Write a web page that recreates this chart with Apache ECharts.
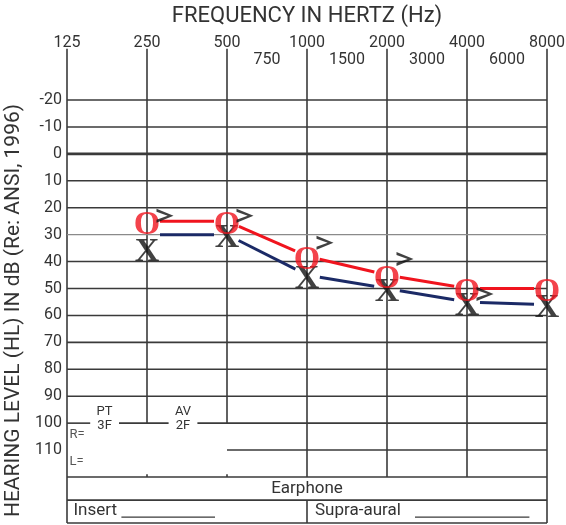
<!DOCTYPE html>
<html>
<head>
<meta charset="utf-8">
<script src="https://cdn.jsdelivr.net/npm/echarts@6/dist/echarts.min.js"></script>
<style>
html,body{margin:0;padding:0;background:#fff;}
#chart{width:566px;height:525px;}
</style>
</head>
<body>
<div id="chart"></div>
<script>
// frequency axis: octave index 0..6 = 125..8000 Hz
var freqLabels = ['125','250','500','1000','2000','4000','8000'];
var halfLabels = ['750','1500','3000','6000'];
var halfPos = [2.5, 3.5, 4.5, 5.5];

// thresholds in dB HL
var airFreq = [250, 500, 1000, 2000, 4000, 8000];
var rightAir = [25, 25, 38, 45, 50, 50];   // O  (red)
var leftAir = [30, 30, 45, 50, 55, 56];    // X  (blue line)
var boneFreq = [250, 500, 1000, 2000, 4000];
var leftBone = [23, 23, 33, 39, 52];       // >

var RED = '#f0141e', NAVY = '#1b2a66', INK = '#3a3a3a', TXT = '#333';
var SANS = 'Roboto';

function oct(f){ return Math.log(f / 125) / Math.LN2; }

function points(freqs, vals){
    return freqs.map(function(f, i){ return [oct(f), vals[i]]; });
}
function segments(freqs, vals){
    var out = [];
    for(var i = 0; i < freqs.length - 1; i++){
        out.push([oct(freqs[i]), vals[i], oct(freqs[i+1]), vals[i+1]]);
    }
    return out;
}

// line between symbols, cut short at both ends
function segItem(color, gap){
    return function(params, api){
        var a = api.coord([api.value(0), api.value(1)]);
        var b = api.coord([api.value(2), api.value(3)]);
        var dx = b[0] - a[0], dy = b[1] - a[1];
        var len = Math.sqrt(dx*dx + dy*dy);
        var ux = dx / len, uy = dy / len;
        return {
            type: 'line',
            shape: {x1: a[0] + ux*gap, y1: a[1] + uy*gap, x2: b[0] - ux*gap, y2: b[1] - uy*gap},
            style: {stroke: color, lineWidth: 3}
        };
    };
}

// the audiogram form: grid lines, bottom table and small texts
var TOP = -39, ROW0 = 120, ROW1 = 128.6, ROW2 = 137.1;
function formItem(params, api){
    var kids = [];
    function seg(x0, y0, x1, y1, w, c){
        var a = api.coord([x0, y0]), b = api.coord([x1, y1]);
        kids.push({type: 'line', shape: {x1: a[0], y1: a[1], x2: b[0], y2: b[1]},
            style: {stroke: c || INK, lineWidth: w || 1.6}});
    }
    function txt(s, x, y, align, size, color){
        var p = api.coord([x, y]);
        kids.push({type: 'text', style: {text: s, x: p[0], y: p[1], align: align || 'center',
            verticalAlign: 'middle', fill: color || TXT, fontSize: size || 16, fontFamily: SANS}});
    }
    // verticals
    for(var i = 0; i <= 6; i++){
        if(i === 0 || i === 6) seg(i, TOP, i, ROW2);
        else if(i <= 2){ seg(i, TOP, i, 100); seg(i, ROW0 - 1, i, ROW0); }
        else seg(i, TOP, i, ROW0);
    }
    // horizontals
    for(var d = -20; d <= 90; d += 10){
        if(d === 0) seg(0, d, 6, d, 2.8);
        else if(d === 30) seg(0, d, 6, d, 1.3, '#8a8a8a');
        else seg(0, d, 6, d);
    }
    seg(0, 100, 0.29, 100); seg(0.65, 100, 1.27, 100); seg(1.63, 100, 6, 100);
    seg(2, 110, 6, 110);
    seg(0, ROW0, 6, ROW0);
    seg(0, ROW1, 6, ROW1);
    seg(0, ROW2, 6, ROW2);
    seg(3, ROW1, 3, ROW2);
    // underlines
    seg(0.68, 134.9, 1.85, 134.9, 1.3);
    seg(4.35, 134.9, 5.78, 134.9, 1.3);
    // texts
    txt('PT', 0.47, 95.8, 'center', 13);
    txt('3F', 0.47, 100.8, 'center', 13);
    txt('AV', 1.45, 95.8, 'center', 13);
    txt('2F', 1.45, 100.8, 'center', 13);
    txt('R=', 0.03, 104.3, 'left', 13, '#555');
    txt('L=', 0.03, 114.4, 'left', 13, '#555');
    txt('Earphone', 3, 124.2, 'center', 17);
    txt('Insert', 0.08, 132.7, 'left', 17);
    txt('Supra-aural', 3.1, 132.7, 'left', 17);
    return {type: 'group', children: kids};
}

function glyphLabel(ch, color){
    return {show: true, position: 'inside', formatter: ch, color: color, offset: [0, 4],
        fontFamily: 'Liberation Serif', fontWeight: 'bold', fontSize: 34};
}

var xData = leftAir.map(function(v, i){
    var item = {value: [oct(airFreq[i]), v]};
    if(i === 0) item.label = {offset: [0, 18]};
    return item;
});

var chart = echarts.init(document.getElementById('chart'));
chart.setOption({
    animation: false,
    backgroundColor: '#fff',
    grid: {left: 67, right: 19, top: 100, bottom: 48, outerBoundsMode: 'none', containLabel: false},
    xAxis: [{
        type: 'value', position: 'top', min: 0, max: 6, interval: 1,
        name: 'FREQUENCY IN HERTZ (Hz)', nameLocation: 'middle', nameGap: 73,
        nameTextStyle: {fontSize: 22, color: TXT, fontFamily: SANS},
        axisLine: {show: false}, axisTick: {show: false}, splitLine: {show: false},
        axisLabel: {margin: 49, fontSize: 16, color: TXT, fontFamily: SANS,
            formatter: function(v){ return freqLabels[Math.round(v)]; }}
    }, {
        type: 'value', position: 'top', min: 0, max: 6, interval: 0.5,
        axisLine: {show: false}, axisTick: {show: false}, splitLine: {show: false},
        axisLabel: {margin: 32, fontSize: 16, color: TXT, fontFamily: SANS,
            formatter: function(v){ var k = halfPos.indexOf(v); return k < 0 ? '' : halfLabels[k]; }}
    }],
    yAxis: {
        type: 'value', inverse: true, min: -20, max: 120, interval: 10,
        name: 'HEARING LEVEL (HL) IN dB (Re: ANSI, 1996)', nameLocation: 'middle', nameGap: 38,
        nameTextStyle: {fontSize: 21, color: TXT, fontFamily: SANS, padding: [0, 44, 0, 0]},
        axisLine: {show: false}, axisTick: {show: false}, splitLine: {show: false},
        axisLabel: {margin: 5, fontSize: 16, color: TXT, fontFamily: SANS,
            formatter: function(v){ return v >= 120 ? '' : v; }}
    },
    series: [{
        type: 'custom', name: 'form', clip: false, z: 1, silent: true,
        renderItem: formItem, data: [[0, 0]]
    }, {
        type: 'custom', name: 'left air line', z: 2,
        renderItem: segItem(NAVY, 13), encode: {x: [0, 2], y: [1, 3]},
        data: segments(airFreq, leftAir)
    }, {
        type: 'custom', name: 'right air line', z: 3,
        renderItem: segItem(RED, 13), encode: {x: [0, 2], y: [1, 3]},
        data: segments(airFreq, rightAir)
    }, {
        type: 'scatter', name: 'left air', z: 4, symbolSize: 1,
        itemStyle: {color: 'rgba(0,0,0,0)'}, label: glyphLabel('X', '#111'),
        data: xData
    }, {
        type: 'scatter', name: 'right air', z: 5, symbolSize: 1,
        itemStyle: {color: 'rgba(0,0,0,0)'}, label: glyphLabel('O', RED),
        data: points(airFreq, rightAir)
    }, {
        type: 'scatter', name: 'left bone', z: 6,
        symbol: 'path://M0,0 L16,6.5 L0,13 L0,10.2 L10.5,6.5 L0,2.8 Z',
        symbolSize: [17, 14], symbolOffset: [18, 0],
        itemStyle: {color: '#111'},
        data: points(boneFreq, leftBone)
    }]
});
</script>
</body>
</html>
